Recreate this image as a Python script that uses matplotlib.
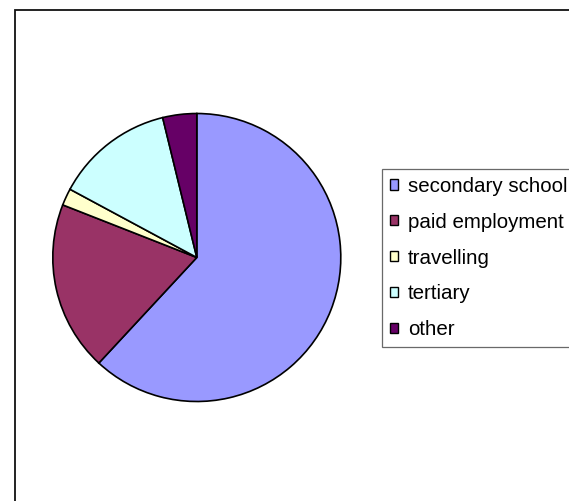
import matplotlib.pyplot as plt
from matplotlib.patches import Rectangle

# pie data
labels = ["secondary school", "paid employment", "travelling", "tertiary", "other"]
values = [65, 20, 2, 14, 4]
colors = ["#9999FF", "#993366", "#FFFFCC", "#CCFFFF", "#660066"]

plt.rcParams["font.family"] = ["Liberation Sans", "DejaVu Sans"]

W, H = 569, 501
fig = plt.figure(figsize=(W / 100, H / 100), dpi=100)

# outer chart frame (runs off the right and bottom edge)
fig.patches.append(Rectangle((15 / W, -0.1), 1.2, 1 - 10 / H + 0.1,
                             transform=fig.transFigure, fill=False,
                             edgecolor="#111111", linewidth=1.3, clip_on=False))

# pie axes: centre ~ (197, 257) px, radius ~144 px
cx, cy, r = 196.8, 257.5, 144
ax = fig.add_axes([(cx - r) / W, (H - cy - r) / H, 2 * r / W, 2 * r / H])
wedges, _ = ax.pie(values, colors=colors, startangle=90, counterclock=False,
                   wedgeprops=dict(edgecolor="black", linewidth=1.2))
ax.set_xlim(-1, 1)
ax.set_ylim(-1, 1)
ax.set_aspect("equal")
ax.axis("off")

leg = fig.legend(wedges, labels, loc="upper left",
                 bbox_to_anchor=(382 / W, 1 - 169 / H),
                 fontsize=14.8, frameon=True, fancybox=False,
                 handlelength=0.39, handleheight=0.39, handletextpad=0.5,
                 labelspacing=0.82, borderpad=0.38, borderaxespad=0)
leg.get_frame().set_edgecolor("#444444")
leg.get_frame().set_linewidth(0.9)
for h in leg.legend_handles:
    h.set_edgecolor("black")
    h.set_linewidth(1.0)

fig.savefig("out.png", dpi=100)
